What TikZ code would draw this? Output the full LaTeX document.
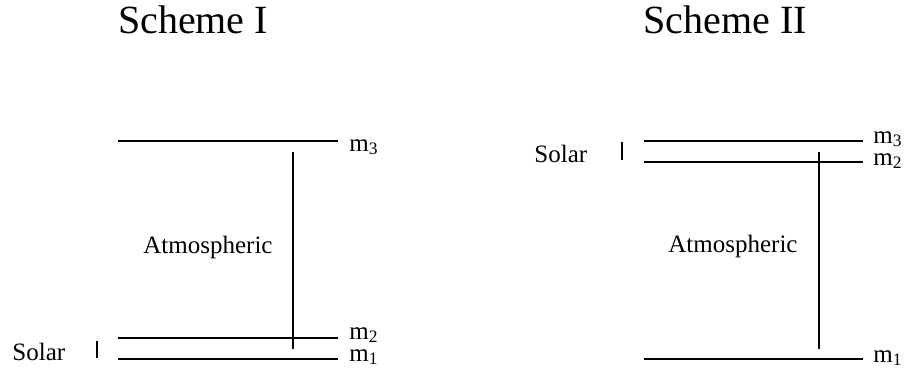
\documentclass[tikz,border=0pt]{standalone}
\usepackage{fontspec}
\setmainfont{Liberation Serif}
\usepackage{tikz}
\usetikzlibrary{positioning,calc}
\definecolor{LevelBlack}{HTML}{000000}
\tikzset{
    % Base text style
    basetext/.style={
        inner sep=0pt,
        text=LevelBlack,
        font=\fontsize{12.5}{15}\selectfont
    },
    % Scheme title
    titletext/.style={
        basetext,
        anchor=base,
        font=\fontsize{20}{24}\selectfont
    },
    % Mass label
    masslabel/.style={
        basetext,
        anchor=base west
    },
    % Level line
    levelline/.style={
        line width=0.65pt,
        draw=LevelBlack
    },
    % Splitting bar
    splitbar/.style={
        line width=0.65pt,
        draw=LevelBlack
    }
}
\begin{document}
\begin{tikzpicture}[x=0.5pt, y=-0.5pt]
    \useasboundingbox (0,0) rectangle (905,370);

    % Scheme I
    \node[titletext] (titleI) at (193,33) {Scheme I};
    \coordinate (Ia3) at (118,141); \coordinate (Ib3) at (338,141);
    \coordinate (Ia2) at (118,338); \coordinate (Ib2) at (338,338);
    \coordinate (Ia1) at (118,359); \coordinate (Ib1) at (338,359);
    \draw[levelline] (Ia3) -- (Ib3);
    \draw[levelline] (Ia2) -- (Ib2);
    \draw[levelline] (Ia1) -- (Ib1);
    \node[masslabel] (mIthree) at (349,151) {m\textsubscript{3}};
    \node[masslabel] (mItwo) at (349,339) {m\textsubscript{2}};
    \node[masslabel] (mIone) at (349,361) {m\textsubscript{1}};
    \coordinate (atmItop) at (293,152); \coordinate (atmIbot) at (293,349);
    \draw[splitbar] (atmItop) -- (atmIbot);
    \node[basetext, anchor=base] (atmI) at (208,253) {Atmospheric};
    \node[basetext, anchor=base west] (solI) at (12,360) {Solar};
    \coordinate (solItop) at (97,341); \coordinate (solIbot) at (97,358);
    \draw[splitbar] (solItop) -- (solIbot);

    % Scheme II
    \node[titletext] (titleII) at (725,33) {Scheme II};
    \coordinate (IIa3) at (644,141); \coordinate (IIb3) at (863,141);
    \coordinate (IIa2) at (644,162); \coordinate (IIb2) at (863,162);
    \coordinate (IIa1) at (644,359); \coordinate (IIb1) at (863,359);
    \draw[levelline] (IIa3) -- (IIb3);
    \draw[levelline] (IIa2) -- (IIb2);
    \draw[levelline] (IIa1) -- (IIb1);
    \node[masslabel] (mIIthree) at (873,143) {m\textsubscript{3}};
    \node[masslabel] (mIItwo) at (873,165) {m\textsubscript{2}};
    \node[masslabel] (mIIone) at (873,362) {m\textsubscript{1}};
    \coordinate (atmIItop) at (819,152); \coordinate (atmIIbot) at (819,349);
    \draw[splitbar] (atmIItop) -- (atmIIbot);
    \node[basetext, anchor=base] (atmII) at (733,252) {Atmospheric};
    \node[basetext, anchor=base west] (solII) at (534,162) {Solar};
    \coordinate (solIItop) at (622,142); \coordinate (solIIbot) at (622,160);
    \draw[splitbar] (solIItop) -- (solIIbot);
\end{tikzpicture}
\end{document}
